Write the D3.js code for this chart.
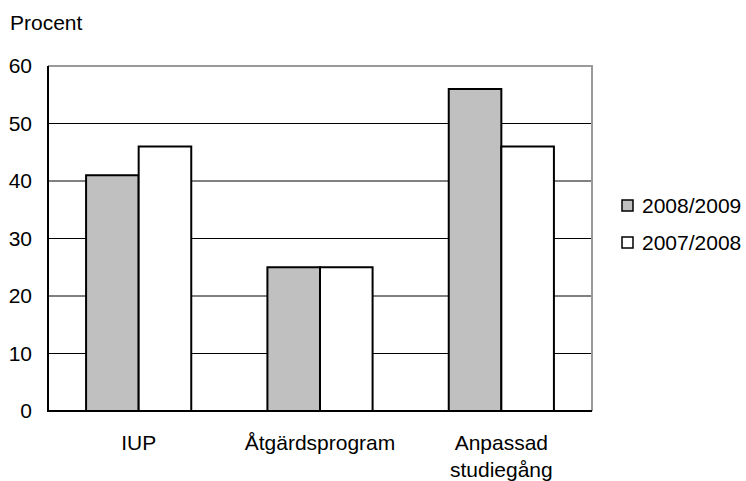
<!DOCTYPE html>
<html>
<head>
<meta charset="utf-8">
<script src="https://cdn.jsdelivr.net/npm/d3@7"></script>
<style>
  body { margin: 0; background: #fff; }
  text { font-family: "Liberation Sans", Arial, sans-serif; fill: #000; }
</style>
</head>
<body>
<svg id="chart" width="746" height="481"></svg>
<script>
// Data
const categories = ['IUP', 'Åtgärdsprogram', 'Anpassad studiegång'];
const seriesNames = ['2008/2009', '2007/2008'];
const values2008 = [41, 25, 56];
const values2007 = [46, 25, 46];
const yTicks = [0, 10, 20, 30, 40, 50, 60];

const colors = ['#c0c0c0', '#ffffff'];
const FONT = 21;

const MARGIN = { TOP: 66, LEFT: 48 };
const WIDTH = 592 - MARGIN.LEFT;
const HEIGHT = 411 - MARGIN.TOP;

const svg = d3.select('#chart');
const g = svg.append('g').attr('transform', `translate(${MARGIN.LEFT},${MARGIN.TOP})`);

const xScale = d3.scaleBand()
  .domain(categories)
  .range([0, WIDTH])
  .paddingInner(0.42)
  .paddingOuter(0.21);
const xInner = d3.scaleBand()
  .domain(seriesNames)
  .range([0, xScale.bandwidth()]);
const yScale = d3.scaleLinear().domain([0, 60]).range([HEIGHT, 0]);

// Gridlines
g.selectAll('.grid')
  .data(yTicks.filter(t => t > 0 && t < 60))
  .enter().append('line')
  .attr('x1', 0).attr('x2', WIDTH)
  .attr('y1', d => yScale(d)).attr('y2', d => yScale(d))
  .attr('stroke', '#000').attr('stroke-width', 1);

// Top and right frame (grey)
g.append('path')
  .attr('d', `M0,${yScale(60)}H${WIDTH}V${HEIGHT}`)
  .attr('fill', 'none').attr('stroke', '#999').attr('stroke-width', 2);

// Bars
const series = seriesNames.map((name, i) => ({
  name,
  values: i === 0 ? values2008 : values2007,
  color: colors[i],
}));
series.forEach(s => {
  g.selectAll(null)
    .data(categories.map((c, i) => ({ c, v: s.values[i] })))
    .enter().append('rect')
    .attr('x', d => xScale(d.c) + xInner(s.name))
    .attr('y', d => yScale(d.v))
    .attr('width', xInner.bandwidth())
    .attr('height', d => HEIGHT - yScale(d.v))
    .attr('fill', s.color)
    .attr('stroke', '#000')
    .attr('stroke-width', 2);
});

// Left and bottom axis lines
g.append('path')
  .attr('d', `M0,0V${HEIGHT}H${WIDTH}`)
  .attr('fill', 'none').attr('stroke', '#000').attr('stroke-width', 2);

// Y tick labels
const leftAxis = d3.axisLeft(yScale).tickValues(yTicks).tickSize(0).tickPadding(16);
g.append('g').call(leftAxis)
  .call(a => a.select('.domain').remove())
  .selectAll('text')
  .attr('font-size', FONT)
  .attr('font-family', '"Liberation Sans", Arial, sans-serif')
  .attr('fill', '#000');

// X labels (wrapped)
const xLabelLines = { 'Anpassad studiegång': ['Anpassad', 'studiegång'] };
categories.forEach(c => {
  const lines = xLabelLines[c] || [c];
  const t = g.append('text')
    .attr('text-anchor', 'middle')
    .attr('font-size', FONT)
    .attr('x', xScale(c) + xScale.bandwidth() / 2)
    .attr('y', HEIGHT + 39);
  lines.forEach((line, i) => {
    t.append('tspan')
      .attr('x', xScale(c) + xScale.bandwidth() / 2)
      .attr('dy', i === 0 ? 0 : 27)
      .text(line);
  });
});

// Axis title
svg.append('text')
  .attr('x', 10).attr('y', 30)
  .attr('font-size', FONT)
  .text('Procent');

// Legend
const legend = svg.append('g').attr('transform', 'translate(622,200)');
series.forEach((s, i) => {
  const item = legend.append('g').attr('transform', `translate(0,${i * 37})`);
  item.append('rect')
    .attr('width', 11).attr('height', 11)
    .attr('fill', s.color).attr('stroke', '#000').attr('stroke-width', 1.5);
  item.append('text')
    .attr('x', 20).attr('y', 13)
    .attr('font-size', FONT)
    .text(s.name);
});
</script>
</body>
</html>
